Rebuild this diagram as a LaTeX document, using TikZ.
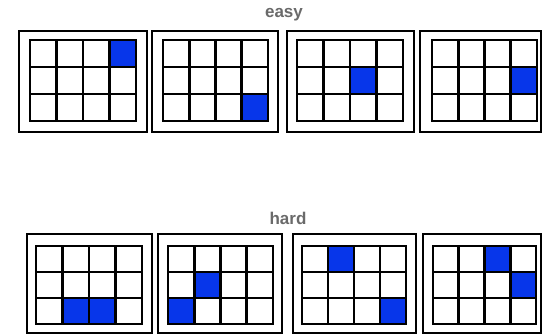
\documentclass[tikz,border=0pt]{standalone}
\usepackage{fontspec}
\setmainfont{Liberation Sans}
\usepackage{xcolor}
\usepackage{tikz}
\usetikzlibrary{positioning,calc}
\definecolor{bdMark}{HTML}{0736EA}
\definecolor{bdText}{HTML}{6A6A6A}
\tikzset{
  frame/.style={draw=black, line width=2.2pt},
  cellline/.style={draw=black, line width=2.6pt, line cap=rect},
  marked/.style={fill=bdMark},
  grouplabel/.style={font=\fontsize{17}{19}\selectfont\bfseries, text=bdText, inner sep=0pt}
}
% draw one board: frame x0,x1, frame y0,y1, grid x0,x1, grid y0,y1, marked cells
\newcommand{\drawboard}[9]{%
  \pgfmathsetmacro{\cw}{(#6-#5)/4}
  \pgfmathsetmacro{\ch}{(#8-#7)/3}
  \draw[frame] (#1,#3) rectangle (#2,#4);
  \foreach \c/\r in {#9} {
    \fill[marked] ({#5+\c*\cw},{#7+\r*\ch}) rectangle ++(\cw,\ch);
  }
  \foreach \i in {0,...,4} \draw[cellline] ({#5+\i*\cw},#7) -- ({#5+\i*\cw},#8);
  \foreach \j in {0,...,3} \draw[cellline] (#5,{#7+\j*\ch}) -- (#6,{#7+\j*\ch});
}
\begin{document}
\begin{tikzpicture}[x=1pt, y=-1pt]
  \useasboundingbox (0,0) rectangle (543,334);
  \node[grouplabel] (easy) at (284,15) {easy};
  \node[grouplabel] (hard) at (288,218) {hard};
  % easy boards
  \drawboard{19}{147}{31}{132}{30}{136}{40}{121}{3/0}
  \drawboard{152}{278}{31}{132}{163}{268}{40}{121}{3/2}
  \drawboard{287}{414}{31}{132}{297}{403}{40}{121}{2/1}
  \drawboard{420}{541}{31}{132}{432}{537}{40}{121}{3/1}
  % hard boards
  \drawboard{27}{152}{234}{333}{36}{142}{246}{324}{1/2,2/2}
  \drawboard{158}{282}{234}{333}{168}{273}{246}{324}{1/1,0/2}
  \drawboard{293}{416}{234}{333}{302}{406}{246}{324}{1/0,3/2}
  \drawboard{423}{541}{234}{333}{433}{536}{246}{324}{2/0,3/1}
\end{tikzpicture}
\end{document}
